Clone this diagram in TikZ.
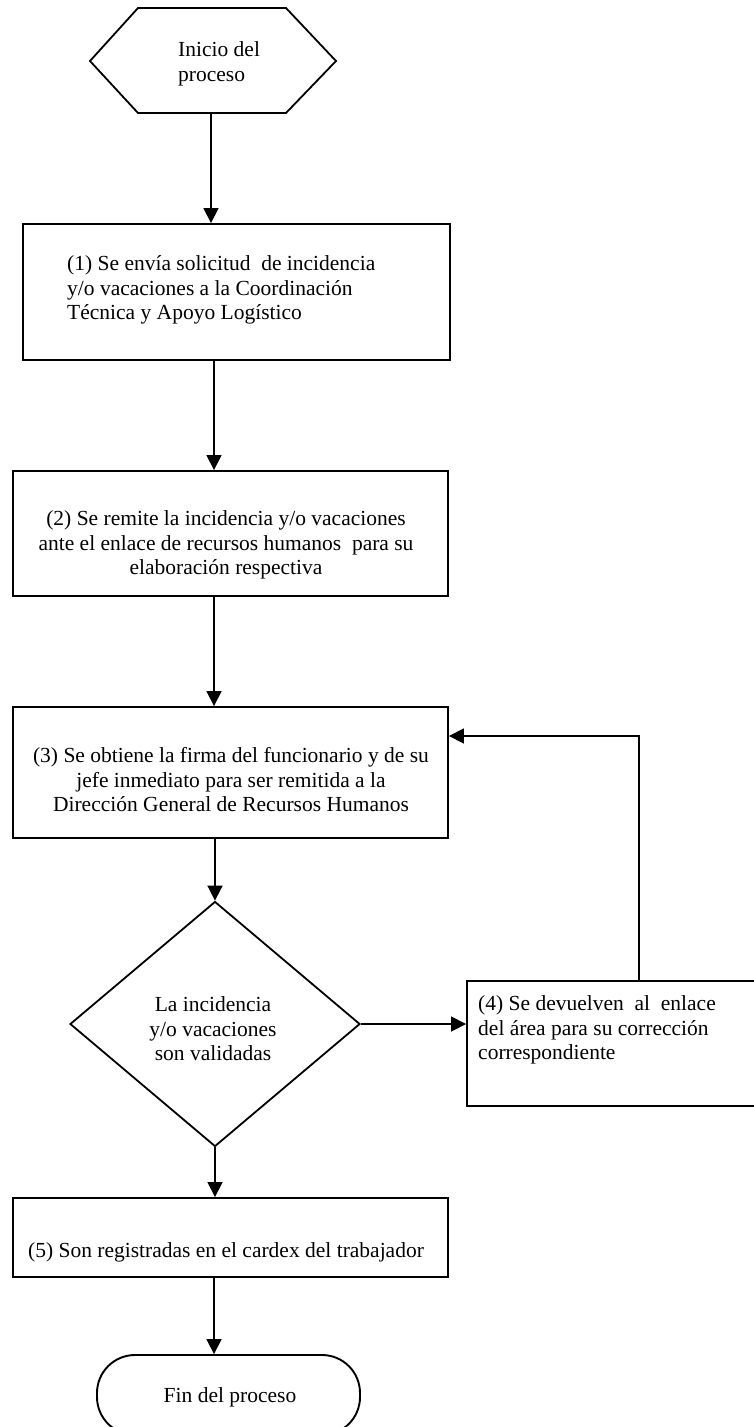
\documentclass[tikz,border=0pt]{standalone}
\usepackage{fontspec}
\setmainfont{Liberation Serif}
\usetikzlibrary{shapes.geometric}
\usetikzlibrary{arrows.meta}
\newcommand{\letra}{\fontsize{21.5}{24.5}\selectfont}
\tikzset{
	caja/.style={draw, line width=1.9pt, rectangle, inner sep=0pt},
	rombo/.style={draw, line width=1.8pt, diamond, inner sep=0pt},
	texto/.style={font=\letra, inner sep=0pt},
	flecha/.style={line width=1.7pt, -{Triangle[length=15pt,width=15pt]}},
}

\begin{document}
\begin{tikzpicture}[x=1pt,y=-1pt]
		\useasboundingbox (0,0) rectangle (753,1427);
		% inicio (hexagono)
		\draw[line width=1.8pt] (90,61) -- (138,8) -- (286,8) -- (336,61) -- (286,113) -- (138,113) -- cycle;
		\coordinate (hexsur) at (211,113);
		\coordinate (eje) at (214,0);
		\coordinate (retorno) at (639,736);
		\node[texto, align=left, anchor=west] (inicio) at (178,64) {Inicio del\\proceso};
		% cajas
		\node[caja, minimum width=427pt, minimum height=136pt] (p1) at (236.5,292) {};
		\node[caja, minimum width=435pt, minimum height=125pt] (p2) at (230.5,533.5) {};
		\node[caja, minimum width=435pt, minimum height=131pt] (p3) at (230.5,772.5) {};
		\node[rombo, minimum width=290pt, minimum height=245pt] (dec) at (215,1024) {};
		\node[caja, minimum width=293pt, minimum height=125pt] (p4) at (613.5,1043.5) {};
		\node[caja, minimum width=435pt, minimum height=79pt] (p5) at (230.5,1237.5) {};
		\node[caja, rounded corners=38pt, minimum width=263pt, minimum height=80pt] (fin) at (228.5,1395) {};
		% textos
		\node[texto, align=left, anchor=west] (t1) at (67,290) {(1) Se envía solicitud\ \ de incidencia\\y/o vacaciones a la Coordinación\\Técnica y Apoyo Logístico};
		\node[texto, align=center] (t2) at (226,545) {(2) Se remite la incidencia y/o vacaciones\\ante el enlace de recursos humanos\ \ para su\\elaboración respectiva};
		\node[texto, align=center] (t3) at (231,780) {(3) Se obtiene la firma del funcionario y de su\\jefe inmediato para ser remitida a la\\Dirección General de Recursos Humanos};
		\node[texto, align=center] (td) at (213,1029) {La incidencia\\y/o vacaciones\\son validadas};
		\node[texto, align=left, anchor=west] (t4) at (478,1030) {(4) Se devuelven\ \ al\ \ enlace\\del área para su corrección\\correspondiente};
		\node[texto] (t5) at (226,1252) {(5) Son registradas en el cardex del trabajador};
		\node[texto] (tf) at (230,1397) {Fin del proceso};
		% flechas
		\draw[flecha] (hexsur) -- (hexsur |- p1.north);
		\draw[flecha] (p1.south -| eje) -- (p2.north -| eje);
		\draw[flecha] (p2.south -| eje) -- (p3.north -| eje);
		\draw[flecha] (p3.south -| dec.north) -- (dec.north);
		\draw[flecha] (dec.east) -- (p4.west |- dec.east);
		\draw[flecha] (p4.north -| retorno) |- (p3.east |- retorno);
		\draw[flecha] (dec.south) -- (p5.north -| dec.south);
		\draw[flecha] (p5.south -| eje) -- (fin.north -| eje);
	\end{tikzpicture}
\end{document}
